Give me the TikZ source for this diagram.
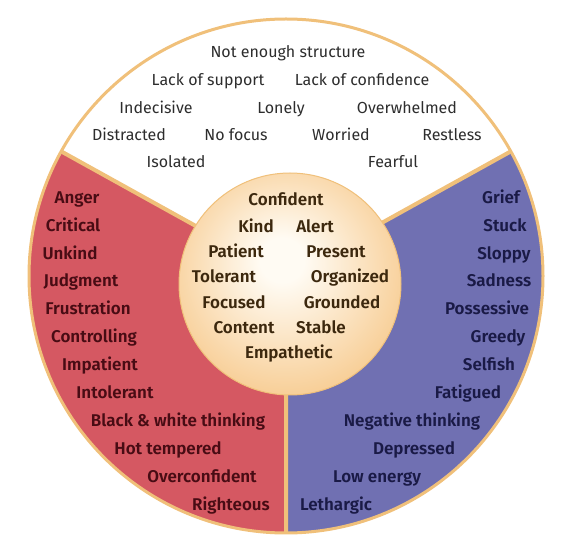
\documentclass[tikz,border=0pt]{standalone}
\usepackage{fontspec}
\setmainfont{Fira Sans}[BoldFont={Fira Sans SemiBold}]
\usepackage{xcolor}
\usepackage{tikz}
\definecolor{rim}{RGB}{240,192,122}
\definecolor{angry}{RGB}{213,88,98}
\definecolor{sad}{RGB}{112,112,178}
\definecolor{glowin}{RGB}{255,251,243}
\definecolor{glowout}{RGB}{243,178,92}
\definecolor{redtxt}{RGB}{72,12,20}
\definecolor{bluetxt}{RGB}{26,26,70}
\definecolor{coretxt}{RGB}{60,40,14}
\definecolor{greytxt}{RGB}{45,45,45}
\pgfdeclareradialshading{coreglow}{\pgfpoint{-2bp}{6bp}}{color(0bp)=(glowin);color(5bp)=(glowin);color(38bp)=(glowout!88!glowin);color(50bp)=(glowout)}

\begin{document}
\begin{tikzpicture}[x=1pt,y=1pt,
word/.style={inner sep=0pt,text height=12pt,text depth=3pt,yshift=-1.5pt,font=\fontsize{16}{18}\selectfont},
calm/.style={word,text=greytxt},
hot/.style={word,font=\fontsize{17}{19}\selectfont\bfseries,text=redtxt},
low/.style={word,font=\fontsize{17}{19}\selectfont\bfseries,text=bluetxt},
core/.style={word,font=\fontsize{17}{19}\selectfont\bfseries,text=coretxt}]
\useasboundingbox (0,0) rectangle (579,544);
\coordinate (O) at (286,268);
\coordinate (C) at (290,260);
%%% three sectors
\fill[white] (O)--++(29:257) arc[start angle=29,end angle=151,radius=257]--cycle;
\fill[angry] (O)--++(151:257) arc[start angle=151,end angle=270,radius=257]--cycle;
\fill[sad] (O)--++(270:257) arc[start angle=270,end angle=389,radius=257]--cycle;
\draw[rim,line width=4pt] (O)--++(29:257) (O)--++(151:257) (O)--++(270:257);
\draw[rim,line width=3pt] (O) circle[radius=257];
\shade[shading=coreglow,draw=rim,line width=1pt] (C) circle[radius=111];
%%% words
\foreach \t/\x/\y [count=\i] in {Not enough structure/288/52,Lack of support/208/80,Lack of confidence/362/80,
Indecisive/156/108,Lonely/281/108,Overwhelmed/407/108,Distracted/129/135,No focus/236/135,
Worried/341/135,Restless/452/135,Isolated/176/162,Fearful/393/162}
\node[calm] (calm\i) at (\x,544-\y) {\t};
\foreach \t/\x/\y [count=\i] in {Anger/77/198,Critical/73/226,Unkind/70/254,Judgment/81/281,
Frustration/88/309,Controlling/94/337,Impatient/100/365,Intolerant/115/393,
Black \& white thinking/178/421,Hot tempered/168/449,Overconfident/202/477,Righteous/231/505}
\node[hot] (hot\i) at (\x,544-\y) {\t};
\foreach \t/\x/\y [count=\i] in {Grief/501/198,Stuck/505/226,Sloppy/504/254,Sadness/499/281,
Possessive/487/309,Greedy/498/337,Selfish/489/365,Fatigued/468/393,Negative thinking/412/421,
Depressed/414/449,Low energy/377/477,Lethargic/336/505}
\node[low] (low\i) at (\x,544-\y) {\t};
\foreach \t/\x/\y [count=\i] in {Confident/286/200,Kind/256/227,Alert/315/227,Patient/236/252,
Present/336/252,Tolerant/224/277,Organized/350/277,Focused/234/303,Grounded/342/303,
Content/244/328,Stable/321/328,Empathetic/289/353}
\node[core] (core\i) at (\x,544-\y) {\t};
\end{tikzpicture}
\end{document}
